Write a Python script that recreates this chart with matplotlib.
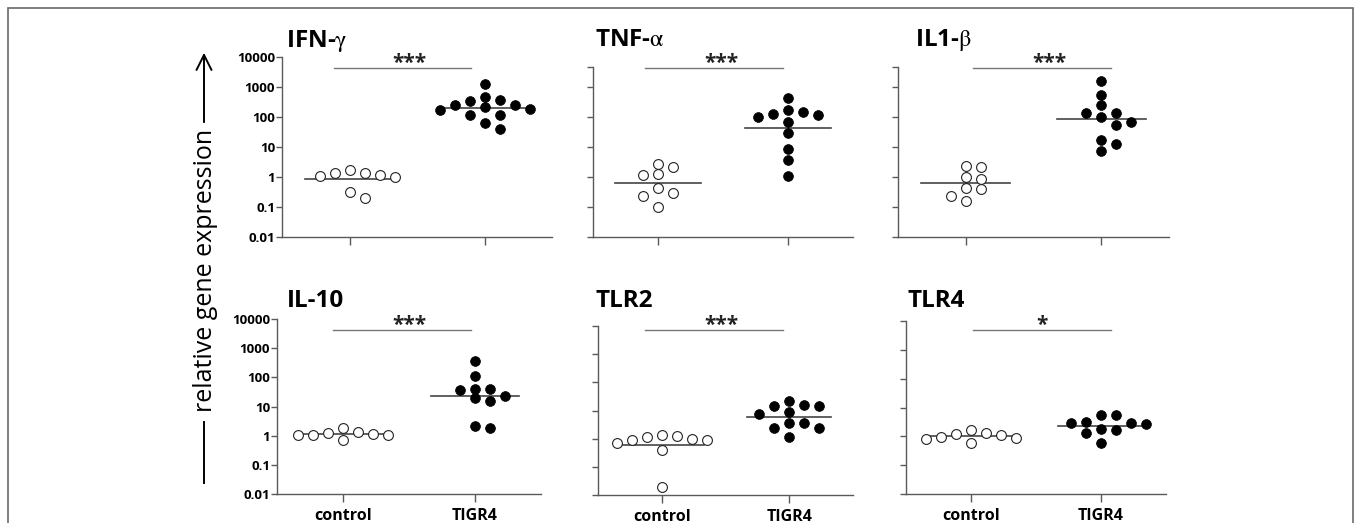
import numpy as np
import matplotlib.pyplot as plt
from matplotlib.lines import Line2D
from matplotlib.patches import Rectangle, FancyArrowPatch

plt.rcParams['font.family'] = ['Open Sans', 'DejaVu Sans']
plt.rcParams['mathtext.fontset'] = 'stix'

W, H = 1357, 523

# values (relative gene expression)
groups = ["control", "TIGR4"]
titles = ["IFN-$\\mathrm{\\gamma}$", "TNF-$\\mathrm{\\alpha}$", "IL1-$\\mathrm{\\beta}$",
          "IL-10", "TLR2", "TLR4"]
significance = ["***", "***", "***", "***", "***", "*"]

ifng_control = [1.36, 1.75, 1.05, 1.0, 1.17, 1.39, 0.2, 0.32]
ifng_tigr4 = [1290, 465, 257, 340, 190, 114, 175, 360, 41, 215, 63, 250, 117]
tnfa_control = [1.17, 2.2, 2.7, 1.23, 0.29, 0.42, 0.23, 0.10]
tnfa_tigr4 = [420, 144, 117, 100, 123, 66, 175, 29, 8.4, 3.8, 1.1]
il1b_control = [2.4, 1.0, 0.39, 0.84, 0.16, 2.1, 0.23, 0.42]
il1b_tigr4 = [1620, 540, 245, 139, 139, 70, 97, 54, 17, 13, 7.4]
il10_control = [1.1, 1.08, 1.34, 0.73, 1.24, 1.08, 1.84, 1.05]
il10_tigr4 = [36, 41, 19, 110, 15.6, 360, 22.6, 39, 1.8, 2.1]
tlr2_control = [0.92, 1.15, 0.72, 1.39, 1.24, 0.92, 0.97, 0.39, 0.02]
tlr2_tigr4 = [15, 22, 8.8, 7.7, 14, 15.7, 3.7, 2.4, 1.15, 2.4, 3.6]
tlr4_control = [1.08, 0.9, 1.27, 0.57, 1.24, 0.83, 1.61, 0.95]
tlr4_tigr4 = [3.0, 5.3, 2.75, 1.6, 1.85, 0.57, 5.6, 2.8, 1.34, 3.2]

panel_data = [
    (ifng_control, ifng_tigr4),
    (tnfa_control, tnfa_tigr4),
    (il1b_control, il1b_tigr4),
    (il10_control, il10_tigr4),
    (tlr2_control, tlr2_tigr4),
    (tlr4_control, tlr4_tigr4),
]

ytick_values = [0.01, 0.1, 1, 10, 100, 1000, 10000]
ytick_labels = ["0.01", "0.1", "1", "10", "100", "1000", "10000"]

# layout in pixels: axes box (left, top, right, bottom), spine top (value)
boxes = [(282, 57, 552, 237), (593, 57, 853, 237), (898, 57, 1169, 237),
         (277, 319, 541, 494), (598, 326, 853, 495), (906, 321, 1166, 494)]
spine_tops = [1e4, 10 ** 3.67, 10 ** 3.67, 1e4, 1e4, 1e4]
title_pos = [(286, 47), (595, 46), (915, 46), (287, 307), (595, 307), (908, 307)]
bar_pos = [(334, 471, 67.5), (645, 783, 67.5), (973, 1111, 67.5),
           (333, 471, 330), (645, 783, 330), (973, 1111, 330)]

DOT_PX = 10.0


def fx(x):
    return x / W


def fy(y):
    return 1 - y / H


def swarm(ax, values, center):
    """simple beeswarm in pixel space, returns x positions in data units"""
    bbox = ax.get_window_extent()
    x0, x1 = ax.get_xlim()
    ly0, ly1 = np.log10(ax.get_ylim())
    sx = bbox.width / (x1 - x0)
    sy = bbox.height / (ly1 - ly0)
    ys = np.log10(values) * sy
    col = DOT_PX * 1.5
    half = col / 2
    xs = np.zeros(len(values))
    placed = []
    for i in np.argsort(ys)[::-1]:
        cands = [0.0]
        for j in range(1, 30):
            cands += [j * half, -j * half]
        for c in cands:
            ok = True
            for px, py in placed:
                if abs(c - px) < col * 0.99 and abs(ys[i] - py) < DOT_PX * 0.95:
                    ok = False
                    break
            if ok:
                break
        placed.append((c, ys[i]))
        xs[i] = center + c / sx
    return xs


fig = plt.figure(figsize=(W / 100, H / 100), dpi=100)

# outer frame
fig.add_artist(Rectangle((fx(8), -0.05), fx(1353) - fx(8), fy(8) + 0.05,
                         transform=fig.transFigure, fill=False,
                         edgecolor='#6a6a6a', linewidth=1.2))

axis_color = '#5a5a5a'

for k, (ctrl, inf) in enumerate(panel_data):
    l, t, r, b = boxes[k]
    ax = fig.add_axes([fx(l), fy(b), fx(r) - fx(l), fy(t) - fy(b)])
    ax.set_yscale('log')
    ax.set_ylim(0.01, 1e4)
    ax.set_xlim(-0.5, 1.5)
    ax.patch.set_alpha(0)
    for s in ['top', 'right']:
        ax.spines[s].set_visible(False)
    for s in ['left', 'bottom']:
        ax.spines[s].set_color(axis_color)
        ax.spines[s].set_linewidth(1.0)
    ax.spines['left'].set_bounds(0.01, spine_tops[k])

    ticks = list(ytick_values)
    if spine_tops[k] < 1e4:
        ticks = ticks[:-1] + [spine_tops[k]]
    ax.set_yticks(ticks)
    ax.yaxis.set_minor_locator(plt.NullLocator())
    if k in (0, 3):
        ax.set_yticklabels(ytick_labels, fontsize=9.5, fontweight='bold')
    else:
        ax.set_yticklabels([])
    ax.tick_params(axis='y', length=4, width=1.0, color=axis_color, pad=1)

    ax.set_xticks([0, 1])
    if k >= 3:
        ax.set_xticklabels(groups, fontsize=11.5, fontweight='bold')
    else:
        ax.set_xticklabels([])
    ax.tick_params(axis='x', length=6, width=1.0, color=axis_color, pad=4)

    fig.canvas.draw()
    for gi, vals in enumerate((ctrl, inf)):
        vals = np.array(vals, dtype=float)
        xs = swarm(ax, vals, gi)
        if gi == 0:
            ax.scatter(xs, vals, s=50, facecolor='white', edgecolor='#222222',
                       linewidth=0.8, zorder=3, clip_on=False)
        else:
            ax.scatter(xs, vals, s=50, facecolor='black', edgecolor='black',
                       linewidth=0.5, zorder=3, clip_on=False)
        gmean = 10 ** np.mean(np.log10(vals))
        ax.plot([gi - 0.33, gi + 0.33], [gmean, gmean], color='#444444',
                linewidth=1.2, zorder=2)

    tx, ty = title_pos[k]
    fig.text(fx(tx), fy(ty), titles[k], fontsize=17.5, fontweight='bold',
             ha='left', va='baseline')

    x0, x1, yb = bar_pos[k]
    fig.add_artist(Line2D([fx(x0), fx(x1)], [fy(yb), fy(yb)],
                          transform=fig.transFigure, color='#777777',
                          linewidth=1.0))
    star = significance[k]
    sx = (x0 + x1) / 2 + (7 if len(star) > 1 else 0)
    fig.text(fx(sx), fy(yb - 7), star, fontsize=15, fontweight='bold',
             ha='center', va='center_baseline', color='#222222')

# y label with arrow
fig.text(fx(206), fy(270), "relative gene expression", rotation=90,
         fontsize=18, ha='center', va='center')
fig.add_artist(Line2D([fx(204), fx(204)], [fy(422), fy(483)],
                      transform=fig.transFigure, color='black', linewidth=1.4))
fig.add_artist(FancyArrowPatch(
    (fx(204), fy(125)), (fx(204), fy(50)), transform=fig.transFigure,
    arrowstyle='->', mutation_scale=27, color='black', linewidth=1.4))

fig.savefig('out.png', dpi=100)
